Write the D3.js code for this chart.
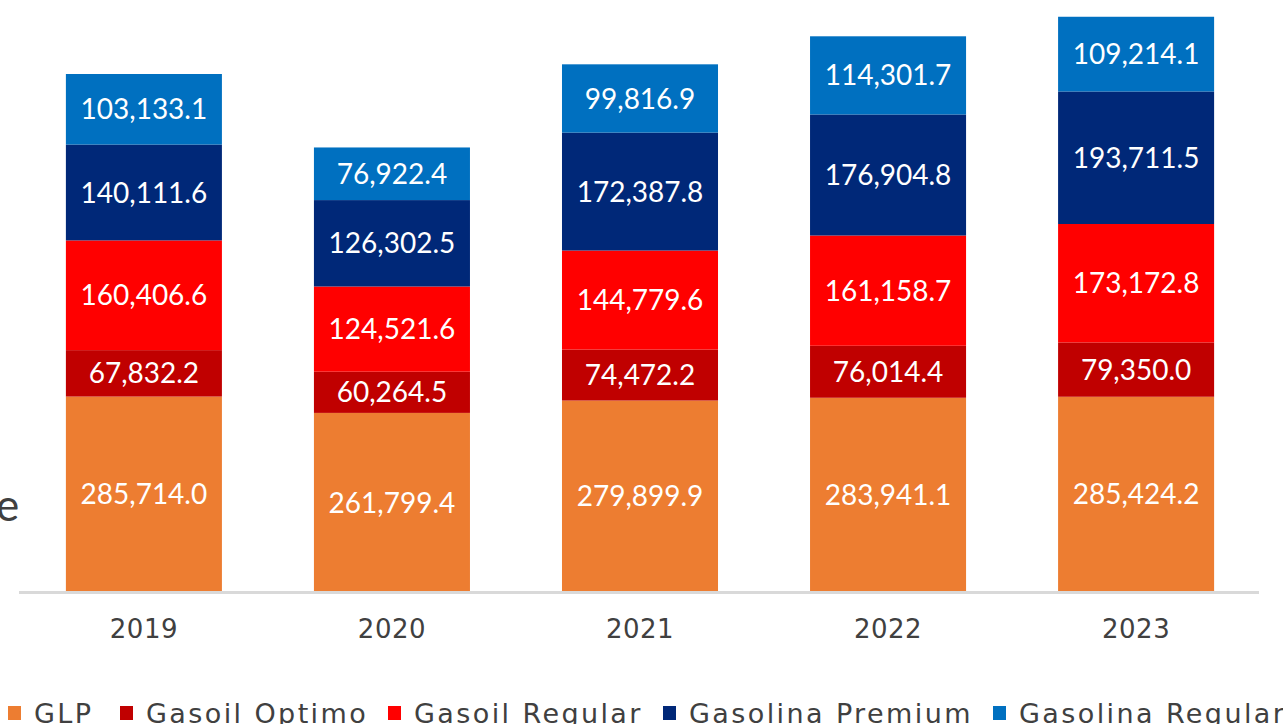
<!DOCTYPE html>
<html><head><meta charset="utf-8">
<script src="https://cdn.jsdelivr.net/npm/d3@7"></script>
<style>html,body{margin:0;padding:0;background:#fff;overflow:hidden}</style>
</head><body>
<svg id="c" width="1283" height="724"></svg>
<script>
const years = ["2019","2020","2021","2022","2023"];
const seriesNames = ["GLP","Gasoil Optimo","Gasoil Regular","Gasolina Premium","Gasolina Regular"];
const seriesColors = ["#ED7D31","#C00000","#FF0000","#002878","#0070C0"];
const glp = [285714.0, 261799.4, 279899.9, 283941.1, 285424.2];
const gasoilOptimo = [67832.2, 60264.5, 74472.2, 76014.4, 79350.0];
const gasoilRegular = [160406.6, 124521.6, 144779.6, 161158.7, 173172.8];
const gasolinaPremium = [140111.6, 126302.5, 172387.8, 176904.8, 193711.5];
const gasolinaRegular = [103133.1, 76922.4, 99816.9, 114301.7, 109214.1];

const seriesValues = [glp, gasoilOptimo, gasoilRegular, gasolinaPremium, gasolinaRegular];
const table = years.map((y,i)=>{const o={year:y}; seriesNames.forEach((s,j)=>o[s]=seriesValues[j][i]); return o;});
const stack = d3.stack().keys(seriesNames)(table);

const FONT = "Lato, 'Noto Sans', sans-serif";
const FONT2 = "'DejaVu Sans', sans-serif";
const svg = d3.select("#c");
const baseY = 592;
const x = d3.scaleBand().domain(years).range([20,1260]).paddingInner(0.371).paddingOuter(0.185);
const y = d3.scaleLinear().domain([0,865370]).range([baseY,0]);

const fmt = d3.format(",.1f");
const g = svg.append("g");
stack.forEach((layer,j)=>{
  g.selectAll(null).data(layer).enter().append("rect")
    .attr("x",d=>x(d.data.year)).attr("width",x.bandwidth())
    .attr("y",d=>y(d[1])).attr("height",d=>y(d[0])-y(d[1]))
    .attr("fill",seriesColors[j]);
  g.selectAll(null).data(layer).enter().append("text")
    .attr("x",d=>x(d.data.year)+x.bandwidth()/2)
    .attr("y",d=>(y(d[0])+y(d[1]))/2)
    .attr("dy","0.36em")
    .attr("text-anchor","middle")
    .attr("fill","#fff")
    .style("font-family",FONT).style("font-size","28px")
    .text(d=>fmt(d[1]-d[0]));
});

// axis
const ax = svg.append("g").attr("transform",`translate(0,${baseY})`)
  .call(d3.axisBottom(x).tickSize(0).tickPadding(0));
ax.select(".domain").attr("d","M19,0.5H1259").attr("stroke","#d9d9d9").attr("stroke-width",3);
ax.selectAll(".tick text").attr("y",46).attr("dy",0).attr("fill","#404040")
  .style("font-family",FONT2).style("font-size","26px").style("letter-spacing","0.5px");

// stray text fragment on left
svg.append("text").attr("x",-4).attr("y",521).attr("fill","#404040")
  .style("font-family",FONT).style("font-size","44px").text("e");

// legend
const legX = [8,120,388,663,993];
const lg = svg.append("g");
seriesNames.forEach((s,j)=>{
  lg.append("rect").attr("x",legX[j]).attr("y",706).attr("width",13).attr("height",14).attr("fill",seriesColors[j]);
  lg.append("text").attr("x",legX[j]+26).attr("y",723).attr("fill","#404040")
    .style("font-family",FONT2).style("font-size","27px").style("letter-spacing","2.4px").text(s);
});
</script>
</body></html>
